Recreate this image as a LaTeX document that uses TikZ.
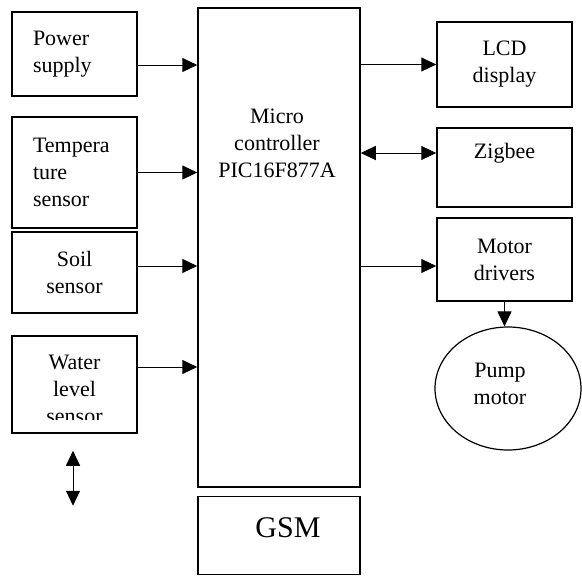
\documentclass[tikz,border=0pt]{standalone}
\usepackage{fontspec}
\setmainfont{Liberation Serif}
\usepackage{tikz}
\usetikzlibrary{shapes.geometric, arrows.meta, positioning}
\tikzset{
  block/.style={rectangle, draw=black, line width=1.5pt, align=center,
    font=\fontsize{22}{27}\selectfont, inner sep=2pt},
  lblock/.style={block, align=left, text width=83pt, inner xsep=21pt},
  roundnode/.style={ellipse, draw=black, line width=1.2pt,
    minimum width=146pt, minimum height=123pt},
  txt/.style={align=center, font=\fontsize{22}{27}\selectfont},
  arrow/.style={-{Triangle[length=15pt,width=14pt]}, line width=1pt},
  dblarrow/.style={{Triangle[length=15pt,width=14pt]}-{Triangle[length=15pt,width=14pt]}, line width=1pt}
}

\begin{document}
\begin{tikzpicture}[x=1pt, y=-1pt]
  \useasboundingbox (0,0) rectangle (582,576);

  % Controller and GSM
  \node[block, minimum width=162pt, minimum height=479pt] (mcu) at (279,247.5) {};
  \node[txt] (mcutext) at (277,143) {Micro\\controller\\PIC16F877A};
  \node[block, minimum width=162pt, minimum height=78pt, text depth=15pt,
    font=\fontsize{30}{36}\selectfont] (gsm) at (279,535.5) {\hspace{18pt}GSM};

  % Inputs
  \node[lblock, minimum width=125pt, minimum height=84pt] (power) at (74.5,54) {Power\\supply};
  \node[lblock, minimum width=125pt, minimum height=111pt] (temp) at (74.5,172.5) {Tempera\\ture\\sensor};
  \node[block, minimum width=125pt, minimum height=81pt] (soil) at (74.5,272.5) {Soil\\sensor};
  \node[block, minimum width=125pt, minimum height=97pt] (water) at (74.5,384.5) {};
  \begin{scope}
    \clip (water.north west) rectangle ([yshift=14pt]water.south east);
    \node[txt] (watertext) at ([yshift=-5pt]water.center) {Water\\level\\sensor};
  \end{scope}

  % Outputs
  \node[block, minimum width=135pt, minimum height=85pt] (lcd) at (504.5,64.5) {LCD\\display};
  \node[block, minimum width=135pt, minimum height=79pt, text depth=34pt] (zigbee) at (504.5,167.5) {Zigbee};
  \node[block, minimum width=135pt, minimum height=83pt] (motor) at (504.5,259.5) {Motor\\drivers};
  \node[roundnode, label={[txt, xshift=-8pt, yshift=5pt]center:{Pump\\motor}}] (pump) at (508,388.5) {};

  % Connections
  \draw[arrow] (power.east |- 0,65) -- (mcu.west |- 0,65);
  \draw[arrow] (temp.east) -- (mcu.west |- temp.east);
  \draw[arrow] (soil.east |- 0,266) -- (mcu.west |- 0,266);
  \draw[arrow] (water.east |- 0,367) -- (mcu.west |- 0,367);
  \draw[arrow] (mcu.east |- lcd.west) -- (lcd.west);
  \draw[dblarrow] (mcu.east |- 0,153) -- (zigbee.west |- 0,153);
  \draw[arrow] (mcu.east |- 0,266) -- (motor.west |- 0,266);
  \draw[arrow] (motor.south) -- (motor.south |- pump.north);

  % Water level
  \coordinate (levelup) at ([xshift=-1.5pt, yshift=-17pt]water.south);
  \coordinate (leveldown) at ([xshift=-1.5pt, yshift=-72pt]water.south);
  \draw[dblarrow] (levelup) -- (leveldown);
\end{tikzpicture}
\end{document}
